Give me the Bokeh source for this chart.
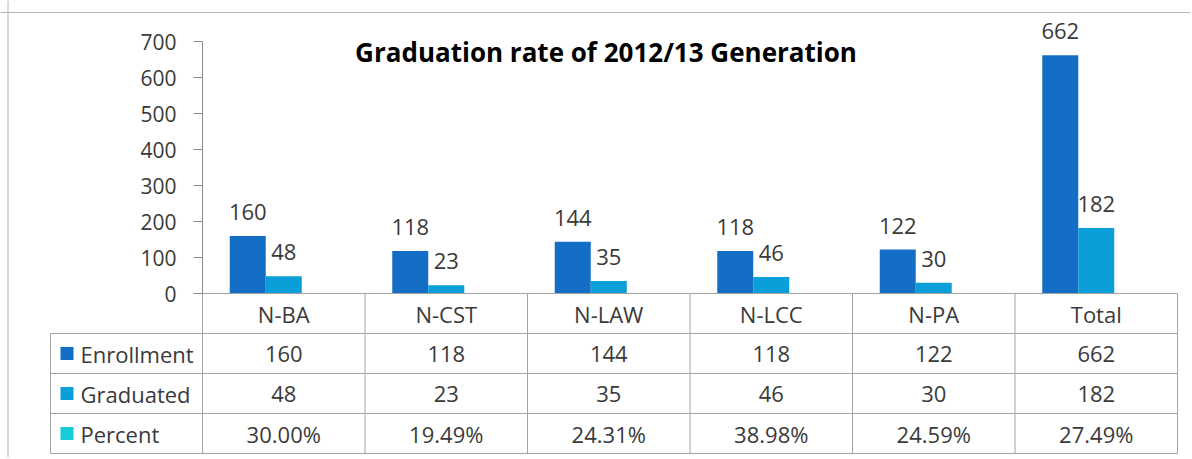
from bokeh.plotting import figure
from bokeh.models import Range1d, LinearAxis, FixedTicker, Span, Label
from bokeh.core.properties import value
from bokeh.embed import file_html
from bokeh.resources import INLINE

# ---------------- data ----------------
categories = ["N-BA", "N-CST", "N-LAW", "N-LCC", "N-PA", "Total"]
enrollment = [160, 118, 144, 118, 122, 662]
graduated = [48, 23, 35, 46, 30, 182]
percent = [30.00, 19.49, 24.31, 38.98, 24.59, 27.49]
series_names = ["Enrollment", "Graduated", "Percent"]
y_ticks = [0, 100, 200, 300, 400, 500, 600, 700]
title_text = "Graduation rate of 2012/13 Generation"

# ---------------- style ----------------
COLORS = ["#146EC6", "#0A9FD9", "#14CDD9"]
FONT = "Open Sans"
TXT = "#3A3A3A"
GRID = "#A3A3A3"
FS = "22px"

ORG = 0                                 # page offset of the canvas
W, H = 1190, 457
AX_PX, COL_PX = 202.0, 162.5           # axis x position, column width
Y0_PX, PX_PER_UNIT = 293.0, 0.36       # baseline y, pixels per value unit
ROW_PX = 40.0                           # table row height


def xd(px):
    return (px - AX_PX) / COL_PX


def yd(px):
    return (Y0_PX - px) / PX_PER_UNIT


def td(px):
    return (Y0_PX - px) / ROW_PX


p = figure(width=W, height=H, output_backend="svg", toolbar_location=None,
           x_axis_type=None, y_axis_type=None,
           x_range=Range1d(xd(ORG), xd(ORG + W)), y_range=Range1d(yd(ORG + H), yd(ORG)),
           min_border=0, min_border_left=0, min_border_right=0,
           min_border_top=0, min_border_bottom=0)
p.extra_y_ranges = {"tbl": Range1d(td(ORG + H), td(ORG))}
p.outline_line_color = None
p.xgrid.visible = False
p.ygrid.visible = False
p.background_fill_color = "white"
p.border_fill_color = "white"

# ---------------- bars ----------------
n = len(categories)
centers = [i + 0.5 for i in range(n)]
bw = 36.0 / COL_PX
offsets = [-bw, 0.0, bw]
all_series = [enrollment, graduated, percent]
for k, (vals, col) in enumerate(zip(all_series, COLORS)):
    xs = [c + offsets[k] for c in centers]
    vals_plot = [v / 100.0 for v in vals] if k == 2 else vals
    p.vbar(x=xs, top=vals_plot, bottom=0, width=bw, fill_color=col, line_color=None)
    if k < 2:
        p.text(x=xs, y=vals, text=[str(v) for v in vals], text_font=value(FONT),
               text_font_size=FS, text_color=TXT, text_align="center",
               text_baseline="middle", y_offset=-24)

# ---------------- y axis ----------------
yax = LinearAxis(fixed_location=0, bounds=(0, 700), ticker=FixedTicker(ticks=y_ticks))
yax.axis_line_color = "#8C8C8C"
yax.major_tick_line_color = "#8C8C8C"
yax.major_tick_out = 9
yax.major_tick_in = 0
yax.minor_tick_out = 0
yax.minor_tick_in = 0
yax.major_label_standoff = 17
yax.major_label_text_font = FONT
yax.major_label_text_font_size = "21px"
yax.major_label_text_color = TXT
p.add_layout(yax, "left")

# ---------------- title ----------------
p.add_layout(Label(x=xd(605.5), y=yd(51.5), text=title_text, text_font=FONT,
                   text_font_size="26px", text_font_style="bold", text_color="black",
                   text_align="center", text_baseline="middle"))

# ---------------- data table ----------------
legend_left = xd(50)
hx0, hx1, hy = [0], [n], [0]
for r in range(1, 5):
    hx0.append(legend_left); hx1.append(n); hy.append(-r)
p.segment(x0=hx0, y0=hy, x1=hx1, y1=hy, line_color=GRID, line_width=1, y_range_name="tbl")
vx = [legend_left] + list(range(n + 1))
vy0 = [-1] + [0] * (n + 1)
p.segment(x0=vx, y0=vy0, x1=vx, y1=[-4] * len(vx), line_color=GRID, line_width=1,
          y_range_name="tbl")

# header row (category names)
p.text(x=centers, y=[-0.5] * n, text=categories, text_font=value(FONT), text_font_size=FS,
       text_color=TXT, text_align="center", text_baseline="middle", y_range_name="tbl")
# value rows
row_texts = [[str(v) for v in enrollment], [str(v) for v in graduated],
             [f"{v:.2f}%" for v in percent]]
for r, texts in enumerate(row_texts):
    p.text(x=centers, y=[-1.5 - r] * n, text=texts, text_font=value(FONT), text_font_size=FS,
           text_color=TXT, text_align="center", text_baseline="middle", y_range_name="tbl")

# legend keys + names
key_y = [-1.5, -2.5, -3.5]
p.scatter(x=[xd(66.5)] * 3, y=key_y, marker="square", size=13, fill_color=COLORS,
          line_color=None, y_range_name="tbl")
p.text(x=[xd(80)] * 3, y=key_y, text=series_names, text_font=value(FONT), text_font_size=FS,
       text_color=TXT, text_align="left", text_baseline="middle", y_range_name="tbl")

# outer chart border (top and left edges visible in the crop)
p.add_layout(Span(location=yd(12), dimension="width", line_color="#B4B4B4", line_width=1))
p.add_layout(Span(location=xd(7.5), dimension="height", line_color="#B4B4B4", line_width=1))

open("out.html", "w").write(file_html(p, INLINE))
